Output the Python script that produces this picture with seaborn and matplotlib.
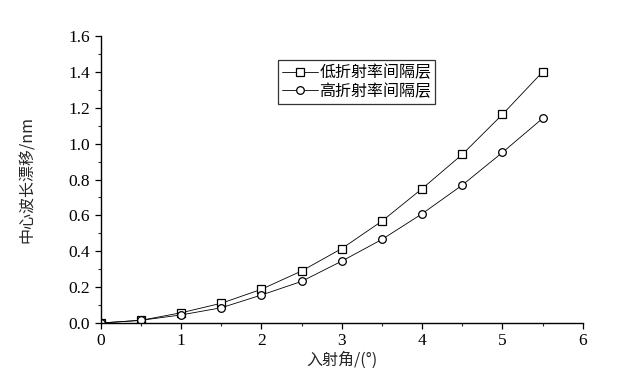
import matplotlib
matplotlib.use("Agg")
import matplotlib.pyplot as plt
import seaborn as sns
import pandas as pd
from matplotlib.ticker import MultipleLocator

angles = [0, 0.5, 1, 1.5, 2, 2.5, 3, 3.5, 4, 4.5, 5, 5.5]
low_index = [0, 0.015, 0.057, 0.11, 0.188, 0.29, 0.415, 0.568, 0.749, 0.94, 1.163, 1.40]
high_index = [0, 0.015, 0.045, 0.085, 0.156, 0.232, 0.345, 0.466, 0.609, 0.769, 0.951, 1.141]
series_names = ["低折射率间隔层", "高折射率间隔层"]

df = pd.DataFrame({
    "angle": angles * 2,
    "shift": low_index + high_index,
    "series": [series_names[0]] * len(angles) + [series_names[1]] * len(angles),
})

sns.set_style("ticks")
plt.rcParams['font.family'] = ['Liberation Serif', 'Noto Sans CJK SC', 'DejaVu Sans']

fig = plt.figure(figsize=(6.18, 3.92), dpi=100)
ax = fig.add_axes([0.163, 0.176, 0.780, 0.732])

sns.lineplot(data=df, x="angle", y="shift", hue="series", style="series",
             markers=["s", "o"], dashes=False,
             palette=["black", "black"], linewidth=0.6,
             markersize=5.5, markerfacecolor="white", markeredgecolor="black",
             markeredgewidth=0.9, ax=ax)

ax.set_xlim(0, 6)
ax.set_ylim(0, 1.6)
ax.xaxis.set_major_locator(MultipleLocator(1))
ax.xaxis.set_minor_locator(MultipleLocator(0.5))
ax.yaxis.set_major_locator(MultipleLocator(0.2))
ax.yaxis.set_minor_locator(MultipleLocator(0.1))
ax.set_yticklabels([f"{v:.1f}" for v in ax.get_yticks()])
ax.tick_params(axis="both", which="major", direction="out", length=4, width=0.9,
               labelsize=12.5, colors="black")
ax.tick_params(axis="both", which="minor", direction="out", length=2.5, width=0.8)
for s in ["left", "bottom"]:
    ax.spines[s].set_linewidth(1.0)
    ax.spines[s].set_color("black")
sns.despine(ax=ax)
for l in ax.get_xticklabels() + ax.get_yticklabels():
    l.set_family(['Liberation Serif'])

ax.set_xlabel("入射角/(°)", fontsize=11.5, family=['Noto Sans CJK SC', 'DejaVu Sans'])
ax.set_ylabel("中心波长漂移/nm", fontsize=11.5, family=['Noto Sans CJK SC', 'DejaVu Sans'])
ax.xaxis.set_label_coords(0.5, -0.1)
ax.yaxis.set_label_coords(-0.135, 0.5)

leg = ax.legend(loc="upper left", bbox_to_anchor=(0.367, 0.915), frameon=True,
                fancybox=False, edgecolor="black",
                handlelength=2.3, handletextpad=0.05, borderpad=0.25,
                labelspacing=0.1, borderaxespad=0,
                prop={'family': ['Noto Sans CJK SC', 'DejaVu Sans'], 'size': 11.5})
leg.get_frame().set_linewidth(0.9)
for t in leg.get_texts():
    t.set_color("black")

fig.savefig("out.png", dpi=100, facecolor="white")
